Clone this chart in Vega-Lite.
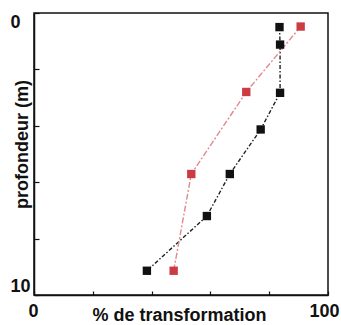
{
  "$schema": "https://vega.github.io/schema/vega-lite/v6.json",
  "autosize": "none",
  "width": 294,
  "height": 282,
  "padding": {"left": 34, "top": 13, "right": 13, "bottom": 30},
  "background": "white",
  "config": {
    "view": {"stroke": "#111", "strokeWidth": 1.5},
    "axis": {
      "grid": false,
      "domainColor": "#111",
      "domainWidth": 1.5,
      "tickColor": "#111",
      "tickWidth": 1.2,
      "labelFont": "Liberation Sans",
      "labelFontWeight": "bold",
      "labelFontSize": 18,
      "labelColor": "#111",
      "titleFont": "Liberation Sans",
      "titleFontWeight": "bold",
      "titleFontSize": 18,
      "titleColor": "#111"
    }
  },
  "data": {
    "values": [
      {"serie": "noir", "transformation": 83.5, "profondeur": 0.5},
      {"serie": "noir", "transformation": 83.7, "profondeur": 1.12},
      {"serie": "noir", "transformation": 83.7, "profondeur": 2.83},
      {"serie": "noir", "transformation": 77.1, "profondeur": 4.13},
      {"serie": "noir", "transformation": 66.6, "profondeur": 5.71},
      {"serie": "noir", "transformation": 58.8, "profondeur": 7.2},
      {"serie": "noir", "transformation": 38.4, "profondeur": 9.14},
      {"serie": "rouge", "transformation": 90.7, "profondeur": 0.48},
      {"serie": "rouge", "transformation": 72.2, "profondeur": 2.8},
      {"serie": "rouge", "transformation": 53.5, "profondeur": 5.71},
      {"serie": "rouge", "transformation": 47.5, "profondeur": 9.14}
    ]
  },
  "encoding": {
    "x": {
      "field": "transformation",
      "type": "quantitative",
      "scale": {"domain": [0, 100], "nice": false},
      "axis": {
        "values": [0, 20, 40, 60, 80, 100],
        "tickSize": -4,
        "labelPadding": 11,
        "labelAlign": "center",
        "labelOffset": {"condition": {"test": "datum.value == 100", "value": -4}, "value": -1},
        "labelExpr": "datum.value == 0 || datum.value == 100 ? datum.label : ''",
        "title": "% de transformation",
        "titleX": 145,
        "titleY": 25,
        "titleBaseline": "alphabetic",
        "titleAnchor": null
      }
    },
    "y": {
      "field": "profondeur",
      "type": "quantitative",
      "scale": {"domain": [0, 10], "reverse": true, "nice": false},
      "axis": {
        "values": [0, 2, 4, 6, 8, 10],
        "tickSize": -5,
        "labelPadding": 29,
        "labelAlign": "left",
        "labelFlush": true,
        "labelExpr": "datum.value == 0 || datum.value == 10 ? datum.label : ''",
        "title": "profondeur (m)",
        "titleX": -12,
        "titleY": 131,
        "titleAngle": -90,
        "titleAlign": "center",
        "titleBaseline": "middle"
      }
    }
  },
  "layer": [
    {
      "mark": {"type": "line", "strokeWidth": 1.4},
      "encoding": {
        "order": {"field": "profondeur", "type": "quantitative"},
        "color": {
          "field": "serie",
          "type": "nominal",
          "scale": {"domain": ["noir", "rouge"], "range": ["#222222", "#e08a8e"]},
          "legend": null
        },
        "strokeDash": {
          "field": "serie",
          "type": "nominal",
          "scale": {"domain": ["noir", "rouge"], "range": [[4, 2, 1.5, 2], [6, 2, 2, 2]]},
          "legend": null
        }
      }
    },
    {
      "mark": {"type": "point", "shape": "square", "filled": true, "size": 70, "opacity": 1},
      "encoding": {
        "color": {
          "field": "serie",
          "type": "nominal",
          "scale": {"domain": ["noir", "rouge"], "range": ["#111111", "#cc3b42"]},
          "legend": null
        }
      }
    }
  ],
  "resolve": {"scale": {"color": "independent"}}
}
